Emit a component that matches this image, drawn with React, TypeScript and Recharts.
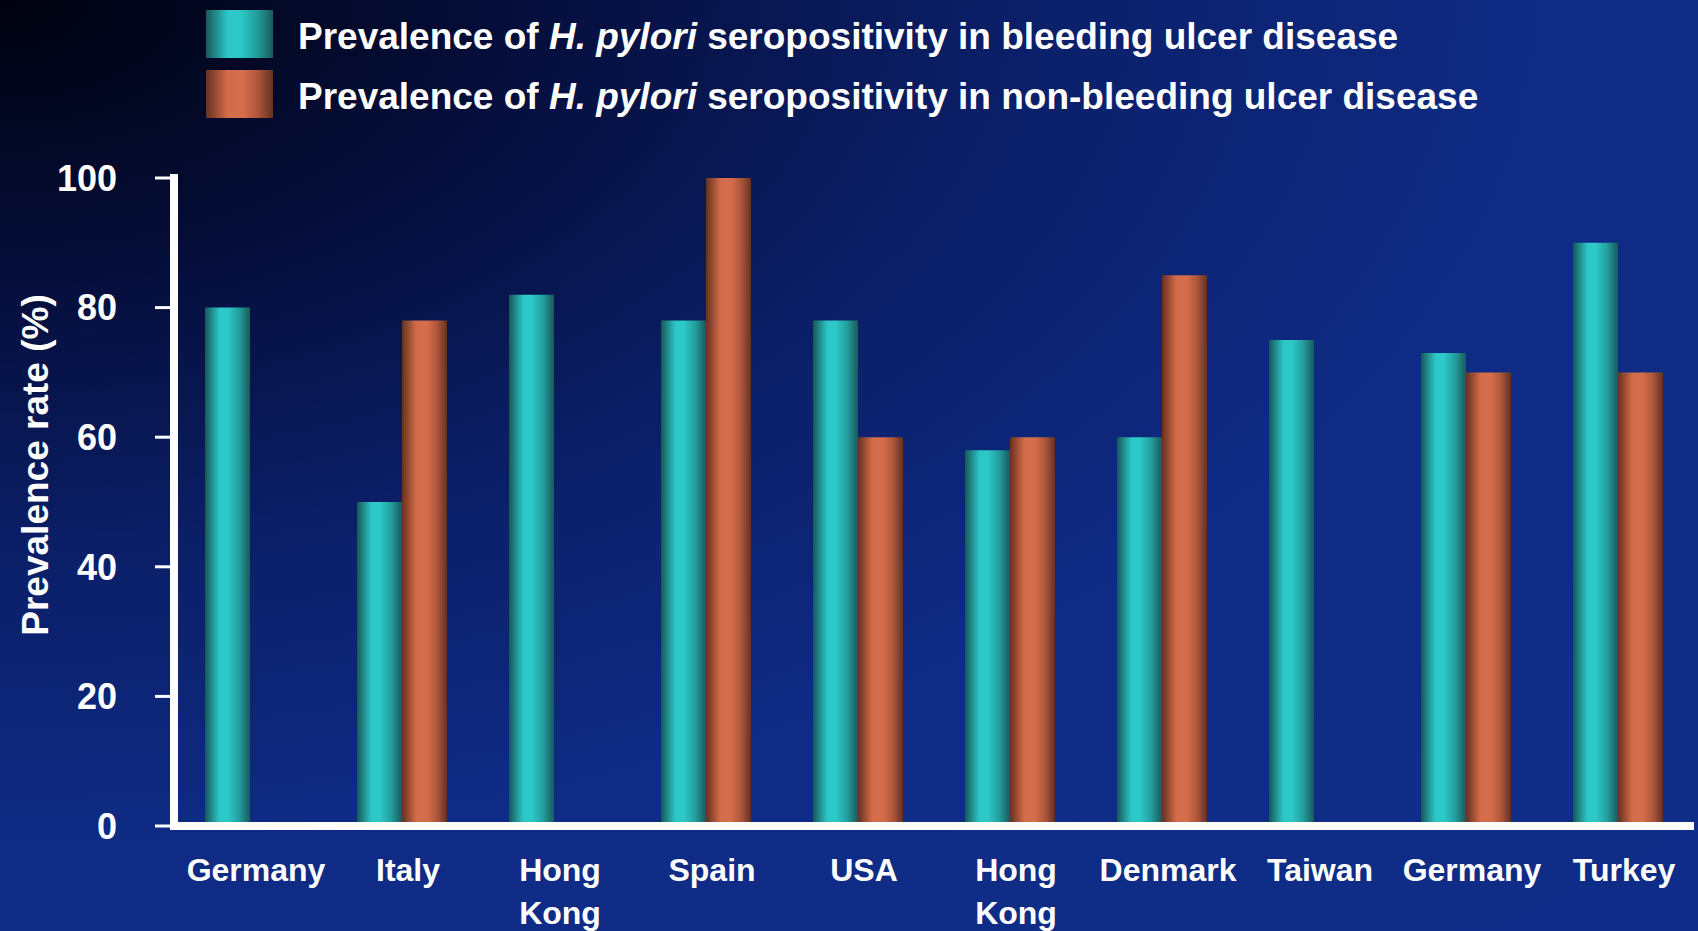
import { Bar, BarChart, XAxis, YAxis } from 'recharts';

const countries = ['Germany', 'Italy', 'Hong Kong', 'Spain', 'USA', 'Hong Kong', 'Denmark', 'Taiwan', 'Germany', 'Turkey'];
const bleeding = [80, 50, 82, 78, 78, 58, 60, 75, 73, 90];
const nonBleeding = [null, 78, null, 100, 60, 60, 85, null, 70, 70];
const yTicks = [0, 20, 40, 60, 80, 100];

const bleedingName = 'bleeding ulcer disease';
const nonBleedingName = 'non-bleeding ulcer disease';

const data = countries.map((country, i) => ({
  country,
  bleeding: bleeding[i],
  nonBleeding: nonBleeding[i],
}));

const FONT = '"Liberation Sans", Arial, sans-serif';

function CountryTick({ x, y, payload }: any) {
  const lines = String(payload.value).split(' ');
  return (
    <g transform={`translate(${x + 6},${y})`}>
      {lines.map((line, i) => (
        <text
          key={i}
          x={0}
          y={i * 43}
          dy={47}
          textAnchor="middle"
          fill="#fff"
          fontFamily={FONT}
          fontWeight="bold"
          fontSize={32}
        >
          {line}
        </text>
      ))}
    </g>
  );
}

function AxisTitle({ viewBox }: any) {
  const cx = viewBox.x + 35;
  const cy = viewBox.y + viewBox.height / 2 - 37;
  return (
    <text
      x={cx}
      y={cy}
      transform={`rotate(-90 ${cx} ${cy})`}
      textAnchor="middle"
      dominantBaseline="central"
      fill="#fff"
      fontFamily={FONT}
      fontWeight="bold"
      fontSize={37}
    >
      Prevalence rate (%)
    </text>
  );
}

function LegendRow({ top, swatch, label }: { top: number; swatch: string; label: string }) {
  return (
    <div style={{ position: 'absolute', left: 206, top, display: 'flex', alignItems: 'center' }}>
      <div style={{ width: 67, height: 48, background: swatch }} />
      <span
        style={{
          marginLeft: 25,
          position: 'relative',
          top: 3,
          color: '#fff',
          fontFamily: FONT,
          fontWeight: 'bold',
          fontSize: 37,
          whiteSpace: 'nowrap',
        }}
      >
        Prevalence of <i>H. pylori</i> seropositivity in {label}
      </span>
    </div>
  );
}

const tealCss = 'linear-gradient(to right, #185758 0%, #2cc6c6 32%, #2ec9c9 50%, #23a0a0 75%, #1a5a5b 100%)';
const orangeCss = 'linear-gradient(to right, #663120 0%, #d26c4a 32%, #d56e4b 55%, #ad563a 78%, #653120 100%)';

export default function App() {
  return (
    <div
      style={{
        position: 'relative',
        width: 1698,
        height: 931,
        background:
          'radial-gradient(ellipse at 0% 0%, #00020e 0%, #050d38 20%, #0b1f68 42%, #0f2b85 65%, #0f2d88 100%)',
      }}
    >
      <style>{'body{margin:0}'}</style>
      <BarChart width={1698} height={931} data={data} margin={{ top: 178, right: 4, bottom: 0, left: 0 }} barGap={0} barSize={45}>
        <defs>
          <linearGradient id="tealBar" x1="0" y1="0" x2="1" y2="0">
            <stop offset="0%" stopColor="#185758" />
            <stop offset="32%" stopColor="#2cc6c6" />
            <stop offset="50%" stopColor="#2ec9c9" />
            <stop offset="75%" stopColor="#23a0a0" />
            <stop offset="100%" stopColor="#1a5a5b" />
          </linearGradient>
          <linearGradient id="orangeBar" x1="0" y1="0" x2="1" y2="0">
            <stop offset="0%" stopColor="#663120" />
            <stop offset="32%" stopColor="#d26c4a" />
            <stop offset="55%" stopColor="#d56e4b" />
            <stop offset="78%" stopColor="#ad563a" />
            <stop offset="100%" stopColor="#653120" />
          </linearGradient>
        </defs>
        <XAxis
          dataKey="country"
          height={105}
          tickLine={false}
          axisLine={{ stroke: '#fff', strokeWidth: 8 }}
          tick={<CountryTick />}
          interval={0}
        />
        <YAxis
          width={174}
          domain={[0, 100]}
          ticks={yTicks}
          tickSize={19}
          tickMargin={38}
          axisLine={{ stroke: '#fff', strokeWidth: 8, strokeLinecap: 'square' }}
          tickLine={{ stroke: '#fff', strokeWidth: 3 }}
          tick={{ fill: '#fff', fontFamily: FONT, fontWeight: 'bold', fontSize: 36 }}
          label={<AxisTitle />}
        />
        <Bar dataKey="bleeding" name={bleedingName} fill="url(#tealBar)" isAnimationActive={false} />
        <Bar dataKey="nonBleeding" name={nonBleedingName} fill="url(#orangeBar)" isAnimationActive={false} />
      </BarChart>
      <LegendRow top={10} swatch={tealCss} label={bleedingName} />
      <LegendRow top={70} swatch={orangeCss} label={nonBleedingName} />
    </div>
  );
}
